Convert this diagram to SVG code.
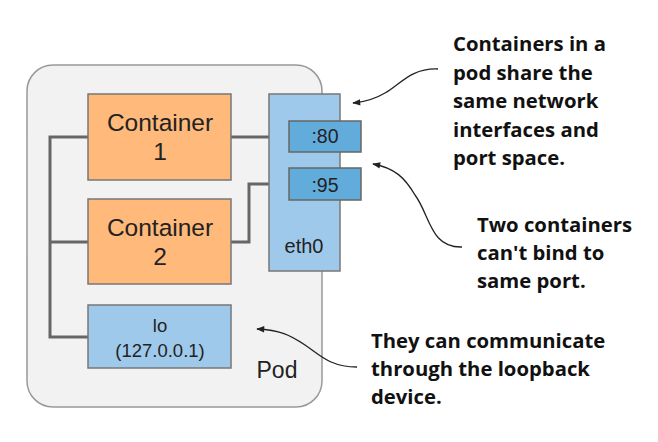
<svg xmlns="http://www.w3.org/2000/svg" width="658" height="442" viewBox="0 0 658 442">
<defs>
<style>
.box{font-family:"Liberation Sans",Arial,sans-serif;fill:#222;text-anchor:middle}
.note{font-family:"Open Sans",Lato,sans-serif;font-weight:bold;font-size:20.3px;fill:#111}
.wire{fill:none;stroke:#666;stroke-width:3}
.callout{fill:none;stroke:#222;stroke-width:1.3}
</style>
<marker id="ah" viewBox="0 0 10 10" refX="9" refY="5" markerWidth="9" markerHeight="8" orient="auto-start-reverse" markerUnits="userSpaceOnUse">
<path d="M0,1 L10,5 L0,9 Z" fill="#222"/>
</marker>
</defs>
<rect width="658" height="442" fill="#fff"/>
<g id="pod">
<rect x="27" y="65" width="295" height="342" rx="26" fill="#f2f2f2" stroke="#999" stroke-width="1.5"/>
<text class="box" x="277" y="378" font-size="23">Pod</text>
</g>
<g id="connectors">
<polyline class="wire" points="88,137 50,137 50,337 88,337"/>
<line class="wire" x1="50" y1="242" x2="88" y2="242"/>
<line class="wire" x1="231" y1="137" x2="289" y2="137"/>
<polyline class="wire" points="231,242 249,242 249,184 289,184"/>
<path class="callout" d="M438,69 C410,68 400,85 385,93 C375,99 365,102 353,103" marker-end="url(#ah)"/>
<path class="callout" d="M462,247 C430,248 430,215 415,195 C405,178 395,168 373,164" marker-end="url(#ah)"/>
<path class="callout" d="M357,367 C330,367 320,355 305,345 C290,335 280,330 257,329" marker-end="url(#ah)"/>
</g>
<g id="container1">
<rect x="88" y="94" width="143" height="86" fill="#ffb97a" stroke="#777" stroke-width="1.5"/>
<text class="box" x="160" y="131" font-size="24.5">Container</text>
<text class="box" x="160" y="160" font-size="24.5">1</text>
</g>
<g id="container2">
<rect x="88" y="199" width="143" height="85" fill="#ffb97a" stroke="#777" stroke-width="1.5"/>
<text class="box" x="160" y="236" font-size="24.5">Container</text>
<text class="box" x="160" y="265" font-size="24.5">2</text>
</g>
<g id="lo">
<rect x="88" y="305" width="143" height="63" fill="#9fc9ea" stroke="#777" stroke-width="1.5"/>
<text class="box" x="160" y="332" font-size="18.5">lo</text>
<text class="box" x="160" y="357" font-size="18.5">(127.0.0.1)</text>
</g>
<g id="eth0">
<rect x="269" y="94" width="71" height="177" fill="#9fc9ea" stroke="#777" stroke-width="1.5"/>
<text class="box" x="304" y="253" font-size="20">eth0</text>
</g>
<g id="port80">
<rect x="289" y="121" width="72" height="31" fill="#62acdc" stroke="#666" stroke-width="1.5"/>
<text class="box" x="325" y="143" font-size="19.5">:80</text>
</g>
<g id="port95">
<rect x="289" y="168" width="72" height="32" fill="#62acdc" stroke="#666" stroke-width="1.5"/>
<text class="box" x="325" y="192" font-size="19.5">:95</text>
</g>
<g id="note1">
<text class="note" x="453" y="51">Containers in a</text>
<text class="note" x="453" y="80">pod share the</text>
<text class="note" x="453" y="108">same network</text>
<text class="note" x="453" y="137">interfaces and</text>
<text class="note" x="453" y="165">port space.</text>
</g>
<g id="note2">
<text class="note" x="477" y="232">Two containers</text>
<text class="note" x="477" y="260">can't bind to</text>
<text class="note" x="477" y="288">same port.</text>
</g>
<g id="note3">
<text class="note" x="371" y="348">They can communicate</text>
<text class="note" x="371" y="376">through the loopback</text>
<text class="note" x="371" y="404">device.</text>
</g>
</svg>
